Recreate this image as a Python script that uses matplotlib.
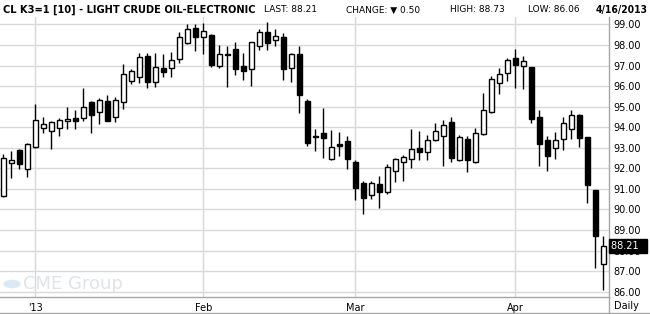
import matplotlib
matplotlib.use("Agg")
import matplotlib.pyplot as plt
import matplotlib.ticker as mticker
import pandas as pd
from matplotlib.lines import Line2D
from matplotlib.patches import Circle

# trading days (CME holidays removed)
holidays = ["2013-01-01", "2013-01-21", "2013-02-18", "2013-03-29"]
dates = pd.bdate_range("2012-12-26", "2013-04-16", freq="C", holidays=holidays)

# daily OHLC
opens = [90.67, 92.27, 92.89, 91.95, 93.02, 93.94, 93.80, 93.94, 94.29, 94.45,
         94.43, 95.23, 94.72, 95.27, 94.48, 95.23, 96.23, 96.46, 97.45, 96.18,
         96.86, 96.86, 97.30, 98.08, 98.81, 98.37, 98.49, 96.96, 97.56, 97.79,
         96.96, 96.82, 97.94, 98.62, 98.23, 98.37, 96.86, 97.56, 95.27, 93.56,
         93.72, 92.46, 93.18, 93.33, 92.29, 91.27, 90.68, 91.22, 90.83, 91.85,
         92.29, 92.43, 92.99, 92.77, 93.36, 93.56, 94.25, 92.39, 93.43, 92.29,
         93.65, 94.72, 96.13, 96.62, 97.35, 96.96, 96.91, 94.48, 93.38, 92.97,
         93.44, 93.90, 94.58, 93.51, 90.93, 87.35]
highs = [92.68, 92.84, 92.96, 93.21, 95.11, 94.50, 94.29, 94.45, 94.97, 94.84,
         95.91, 95.25, 95.40, 95.57, 95.45, 97.08, 96.83, 97.59, 97.59, 97.59,
         97.56, 97.64, 98.62, 99.02, 99.02, 99.09, 98.52, 98.00, 97.94, 98.13,
         97.59, 98.13, 98.76, 99.10, 98.76, 98.57, 97.59, 97.94, 95.36, 93.91,
         94.92, 93.86, 93.77, 93.57, 92.41, 91.38, 91.38, 91.63, 92.21, 92.50,
         92.65, 93.91, 93.81, 93.62, 94.20, 94.35, 94.50, 93.60, 93.56, 93.94,
         95.66, 96.49, 96.86, 97.35, 97.81, 97.46, 96.95, 94.84, 93.56, 93.75,
         94.48, 94.82, 94.63, 93.53, 90.96, 88.73]
lows = [90.62, 91.54, 91.98, 91.59, 93.00, 93.73, 92.92, 93.59, 93.93, 93.93,
        94.32, 93.73, 94.14, 94.30, 94.27, 94.90, 96.09, 96.17, 95.92, 95.97,
        96.43, 96.43, 97.14, 98.06, 97.72, 97.55, 96.91, 96.86, 95.97, 96.56,
        96.31, 96.02, 97.74, 97.74, 97.94, 96.31, 96.22, 94.67, 93.10, 92.86,
        92.52, 92.42, 92.61, 91.98, 90.45, 89.76, 90.49, 90.05, 90.74, 91.32,
        91.37, 92.03, 92.39, 92.39, 93.34, 92.13, 92.32, 92.37, 91.84, 92.27,
        93.63, 94.67, 95.60, 96.26, 95.92, 95.88, 94.19, 92.13, 91.88, 92.47,
        92.87, 93.41, 93.05, 90.30, 87.16, 86.06]
closes = [92.48, 92.39, 92.21, 93.17, 94.35, 94.14, 94.25, 94.35, 94.40, 94.32,
          94.97, 94.61, 95.31, 94.32, 95.31, 96.57, 96.72, 97.40, 96.18, 96.91,
          96.70, 97.25, 98.37, 98.76, 98.37, 98.67, 97.04, 97.55, 97.50, 96.82,
          96.75, 98.13, 98.62, 98.08, 98.42, 96.85, 97.55, 95.58, 93.21, 93.50,
          93.49, 93.06, 93.10, 92.43, 91.06, 90.54, 91.27, 90.83, 92.06, 92.45,
          92.53, 92.92, 92.81, 93.36, 93.82, 94.09, 92.48, 93.51, 92.39, 93.70,
          94.82, 96.33, 96.57, 97.25, 97.01, 97.21, 94.38, 93.20, 92.61, 93.38,
          94.19, 94.59, 93.46, 91.20, 88.71, 88.21]

price_ticks = list(range(86, 100))
last = closes[-1]

W, H = 650, 314
fig = plt.figure(figsize=(W / 100, H / 100), dpi=100)
ax = fig.add_axes([0, (H - 297) / H, 609 / W, (297 - 17) / H])

x = list(range(len(dates)))
ax.vlines(x, lows, highs, color="black", lw=1.0, zorder=3)
bottoms = [min(o, c) for o, c in zip(opens, closes)]
heights = [max(abs(c - o), 0.04) for o, c in zip(opens, closes)]
faces = ["white" if c >= o else "black" for o, c in zip(opens, closes)]
ax.bar(x, heights, bottom=bottoms, width=0.66, color=faces,
       edgecolor="black", linewidth=1.0, zorder=4)

ax.set_xlim(-0.41, 75.71)
ax.set_ylim(85.74, 99.36)

# month ticks at first trading day of each month
month_pos = [i for i in range(1, len(dates)) if dates[i].month != dates[i - 1].month]
month_lab = ["'13" if dates[i].month == 1 else dates[i].strftime("%b") for i in month_pos]
ax.set_xticks(month_pos)
ax.set_xticklabels(month_lab)
ax.set_yticks(price_ticks)
ax.yaxis.set_major_formatter(mticker.FormatStrFormatter("%.2f"))
ax.yaxis.tick_right()
ax.tick_params(axis="both", length=0, labelsize=7, colors="black")
ax.tick_params(axis="y", pad=3)
ax.tick_params(axis="x", pad=4)
ax.grid(True, color="#d9d9d9", lw=1.0, zorder=0)
ax.set_axisbelow(True)
for s in ["top", "left"]:
    ax.spines[s].set_visible(False)
for s in ["right", "bottom"]:
    ax.spines[s].set_color("#a6a6a6")
    ax.spines[s].set_linewidth(1.0)

# last price box
ax.text(1.004, last, f"{last:.2f}  ", transform=ax.get_yaxis_transform(),
        ha="left", va="center", fontsize=7, color="white", zorder=10,
        clip_on=False,
        bbox=dict(boxstyle="square,pad=0.2", fc="black", ec="black"))

# watermark
fig.patches.append(Circle((12 / W, (H - 284) / H), 0.0135, transform=fig.transFigure,
                          fc="#dbe9f4", ec="none", zorder=0))
fig.text(23 / W, (H - 284) / H, "CME Group", fontsize=13, color="#e0e4e8",
         ha="left", va="center", zorder=1)

fig.text(626 / W, (H - 306) / H, "Daily", fontsize=7, ha="center", va="center")
fig.add_artist(Line2D([0, 1], [(H - 313) / H] * 2, color="#a6a6a6", lw=1.0))
fig.add_artist(Line2D([609 / W] * 2, [(H - 313) / H, (H - 297) / H], color="#a6a6a6", lw=1.0))

# header
ty = (H - 10) / H
renderer = fig.canvas.get_renderer()


def fit_text(xp, s, width_px, size, **kw):
    t = fig.text(xp / W, ty, s, fontsize=size, fontweight="bold",
                 fontstretch="condensed", va="center", **kw)
    w = t.get_window_extent(renderer).width
    if w > width_px:
        t.set_fontsize(size * width_px / w)
    return t


fit_text(3, "CL K3=1 [10] - LIGHT CRUDE OIL-ELECTRONIC", 255, 9.5, ha="left")
fit_text(648, "4/16/2013", 52, 9.5, ha="right")
fig.text(264 / W, ty, "LAST: 88.21", fontsize=6.5, ha="left", va="center")
fig.text(346 / W, ty, "CHANGE: \u25bc 0.50", fontsize=6.5, ha="left", va="center")
fig.text(450 / W, ty, "HIGH: 88.73", fontsize=6.5, ha="left", va="center")
fig.text(528 / W, ty, "LOW: 86.06", fontsize=6.5, ha="left", va="center")

fig.savefig("out.png", dpi=100)
